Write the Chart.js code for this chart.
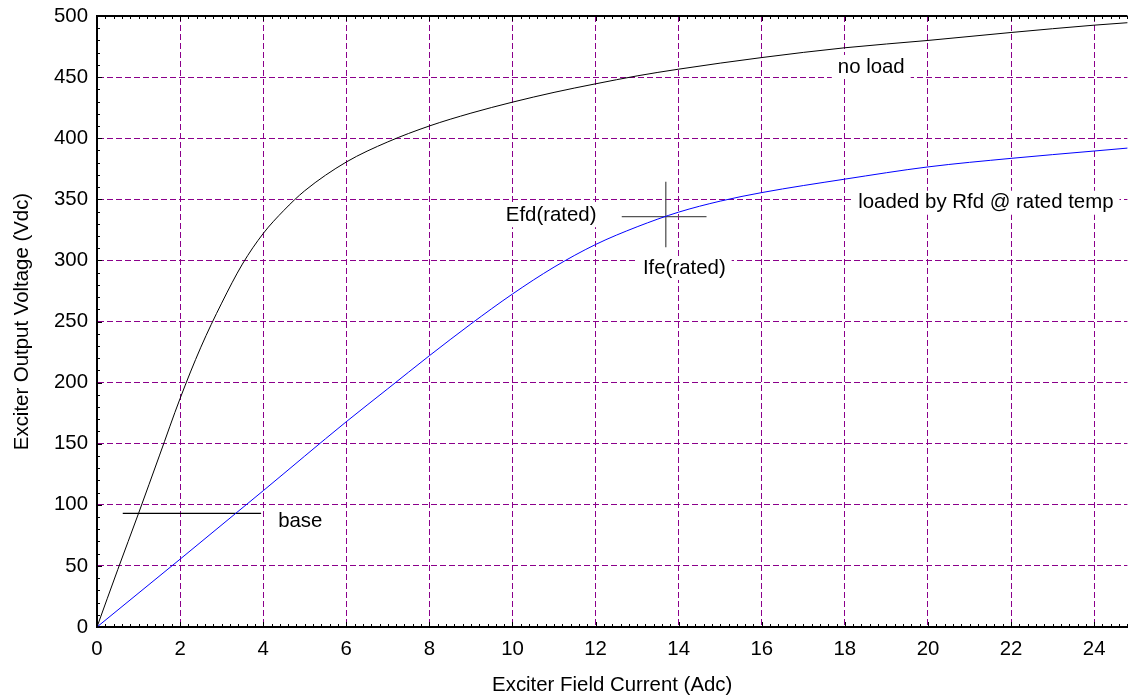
<!DOCTYPE html>
<html>
<head>
<meta charset="utf-8">
<script src="https://cdn.jsdelivr.net/npm/chart.js@4.4.1/dist/chart.umd.min.js"></script>
<style>
html, body { margin: 0; padding: 0; background: #fff; overflow: hidden; }
#wrap { width: 1130px; height: 698px; position: relative; }
</style>
</head>
<body>
<div id="wrap"><canvas id="chart"></canvas></div>
<script>
// exciter saturation curves: field current (A) vs output voltage (V)
const noLoadI = [0, 0.5, 1, 1.5, 2, 2.5, 3, 3.5, 4, 4.5, 5, 6, 7, 8, 9, 10, 11, 12, 13, 14, 16, 18, 20, 22, 24, 25];
const noLoadV = [0, 47, 93, 140, 187, 229, 265, 297, 322, 341, 357, 380.5, 397, 410, 420.5, 429.5, 437.5, 444.5, 451, 456.5, 466, 474, 480, 486.5, 492.5, 495];

const loadedI = [0, 2, 4, 6, 7, 8, 9, 10, 11, 12, 13, 14, 15, 16, 18, 20, 22, 24, 25];
const loadedV = [0, 55.5, 111.5, 168, 195, 222, 248, 272.5, 294.5, 313, 327.5, 339.5, 348.5, 355.5, 366.5, 376.5, 383.5, 389.5, 392.5];

// rated operating point crosshair
const ratedHI = [12.63, 14.67];
const ratedHV = [335.8, 335.8];
const ratedVI = [13.69, 13.69];
const ratedVV = [310.8, 364.4];

// base voltage marker
const baseI = [0.62, 3.95];
const baseV = [93, 93];

const xTicks = [0, 2, 4, 6, 8, 10, 12, 14, 16, 18, 20, 22, 24];
const yTicks = [0, 50, 100, 150, 200, 250, 300, 350, 400, 450, 500];

const notes = [
    { text: 'no load', i: 17.83, v: 458.3 },
    { text: 'loaded by Rfd @ rated temp', i: 18.32, v: 347.2 },
    { text: 'Efd(rated)', i: 9.84, v: 337 },
    { text: 'Ife(rated)', i: 13.14, v: 293.8 },
    { text: 'base', i: 4.36, v: 86.2 }
];

const FONT = "'Liberation Sans', Arial, Helvetica, sans-serif";
const FONT_SIZE = 20.4;
const gridColor = '#8b008b';

function pts(xs, ys) {
    return xs.map((x, k) => ({ x: x, y: ys[k] }));
}

function line(data, color, width) {
    return {
        data: data,
        borderColor: color,
        borderWidth: width,
        pointRadius: 0,
        fill: false,
        cubicInterpolationMode: 'monotone'
    };
}

Chart.defaults.font.family = FONT;
Chart.defaults.font.size = FONT_SIZE;
Chart.defaults.color = '#000';

// text notes on white boxes, frame top edge and inward minor ticks
const decorations = {
    id: 'decorations',
    beforeDatasetsDraw(chart) {
        const { ctx, scales: { x, y } } = chart;
        ctx.save();
        ctx.font = FONT_SIZE + 'px ' + FONT;
        ctx.textBaseline = 'middle';
        ctx.textAlign = 'left';
        notes.forEach(n => {
            const px = x.getPixelForValue(n.i);
            const py = y.getPixelForValue(n.v);
            const w = ctx.measureText(n.text).width;
            ctx.fillStyle = '#fff';
            ctx.fillRect(px - 6, py - 12, w + 12, 24);
            ctx.fillStyle = '#000';
            ctx.fillText(n.text, px, py);
        });
        ctx.restore();
    },
    afterDraw(chart) {
        const { ctx, chartArea: a, scales: { x, y } } = chart;
        ctx.save();
        ctx.strokeStyle = '#000';
        ctx.lineWidth = 1;
        ctx.beginPath();
        for (let k = 0; k <= 125; k++) {
            const v = k * 0.2;
            if (v > x.max + 1e-9) break;
            const px = Math.round(x.getPixelForValue(v)) + 0.5;
            const len = (k % 10 === 0) ? 5 : 3;
            ctx.moveTo(px, a.bottom);
            ctx.lineTo(px, a.bottom - len);
            ctx.moveTo(px, a.top);
            ctx.lineTo(px, a.top + len);
        }
        for (let k = 0; k <= 50; k++) {
            const py = Math.round(y.getPixelForValue(k * 10)) + 0.5;
            const len = (k % 5 === 0) ? 5 : 3;
            ctx.moveTo(a.left, py);
            ctx.lineTo(a.left + len, py);
        }
        ctx.stroke();
        ctx.lineWidth = 2;
        ctx.beginPath();
        ctx.moveTo(a.left, a.top);
        ctx.lineTo(a.right, a.top);
        ctx.stroke();
        ctx.restore();
    }
};

new Chart(document.getElementById('chart'), {
    type: 'line',
    data: {
        datasets: [
            line(pts(noLoadI, noLoadV), '#000000', 1),
            line(pts(loadedI, loadedV), '#0000ff', 1),
            line(pts(ratedHI, ratedHV), '#555555', 1.3),
            line(pts(ratedVI, ratedVV), '#555555', 1.3),
            line(pts(baseI, baseV), '#000000', 1.2)
        ]
    },
    options: {
        responsive: true,
        maintainAspectRatio: false,
        animation: false,
        layout: { padding: { top: 16, right: 2.6, left: 0, bottom: 0 } },
        plugins: {
            legend: { display: false },
            tooltip: { enabled: false }
        },
        scales: {
            x: {
                type: 'linear',
                min: 0,
                max: 24.8,
                afterBuildTicks: s => { s.ticks = xTicks.map(v => ({ value: v })); },
                afterFit: s => { s.height = 71; s.paddingLeft = 0; s.paddingRight = 0; },
                grid: { color: gridColor, lineWidth: 1, drawTicks: false },
                border: { color: '#000', width: 2, dash: [6, 3] },
                ticks: { padding: 10, maxRotation: 0, autoSkip: false },
                title: { display: true, text: 'Exciter Field Current (Adc)', padding: { top: 0, bottom: 0 } }
            },
            y: {
                type: 'linear',
                min: 0,
                max: 500,
                afterBuildTicks: s => { s.ticks = yTicks.map(v => ({ value: v })); },
                afterFit: s => { s.width = 97; s.paddingTop = 0; s.paddingBottom = 0; },
                grid: { color: gridColor, lineWidth: 1, drawTicks: false },
                border: { color: '#000', width: 2, dash: [6, 3] },
                ticks: { padding: 9, autoSkip: false },
                title: { display: true, text: 'Exciter Output Voltage (Vdc)', padding: { top: 10, bottom: 0 } }
            }
        }
    },
    plugins: [decorations]
});
</script>
</body>
</html>
